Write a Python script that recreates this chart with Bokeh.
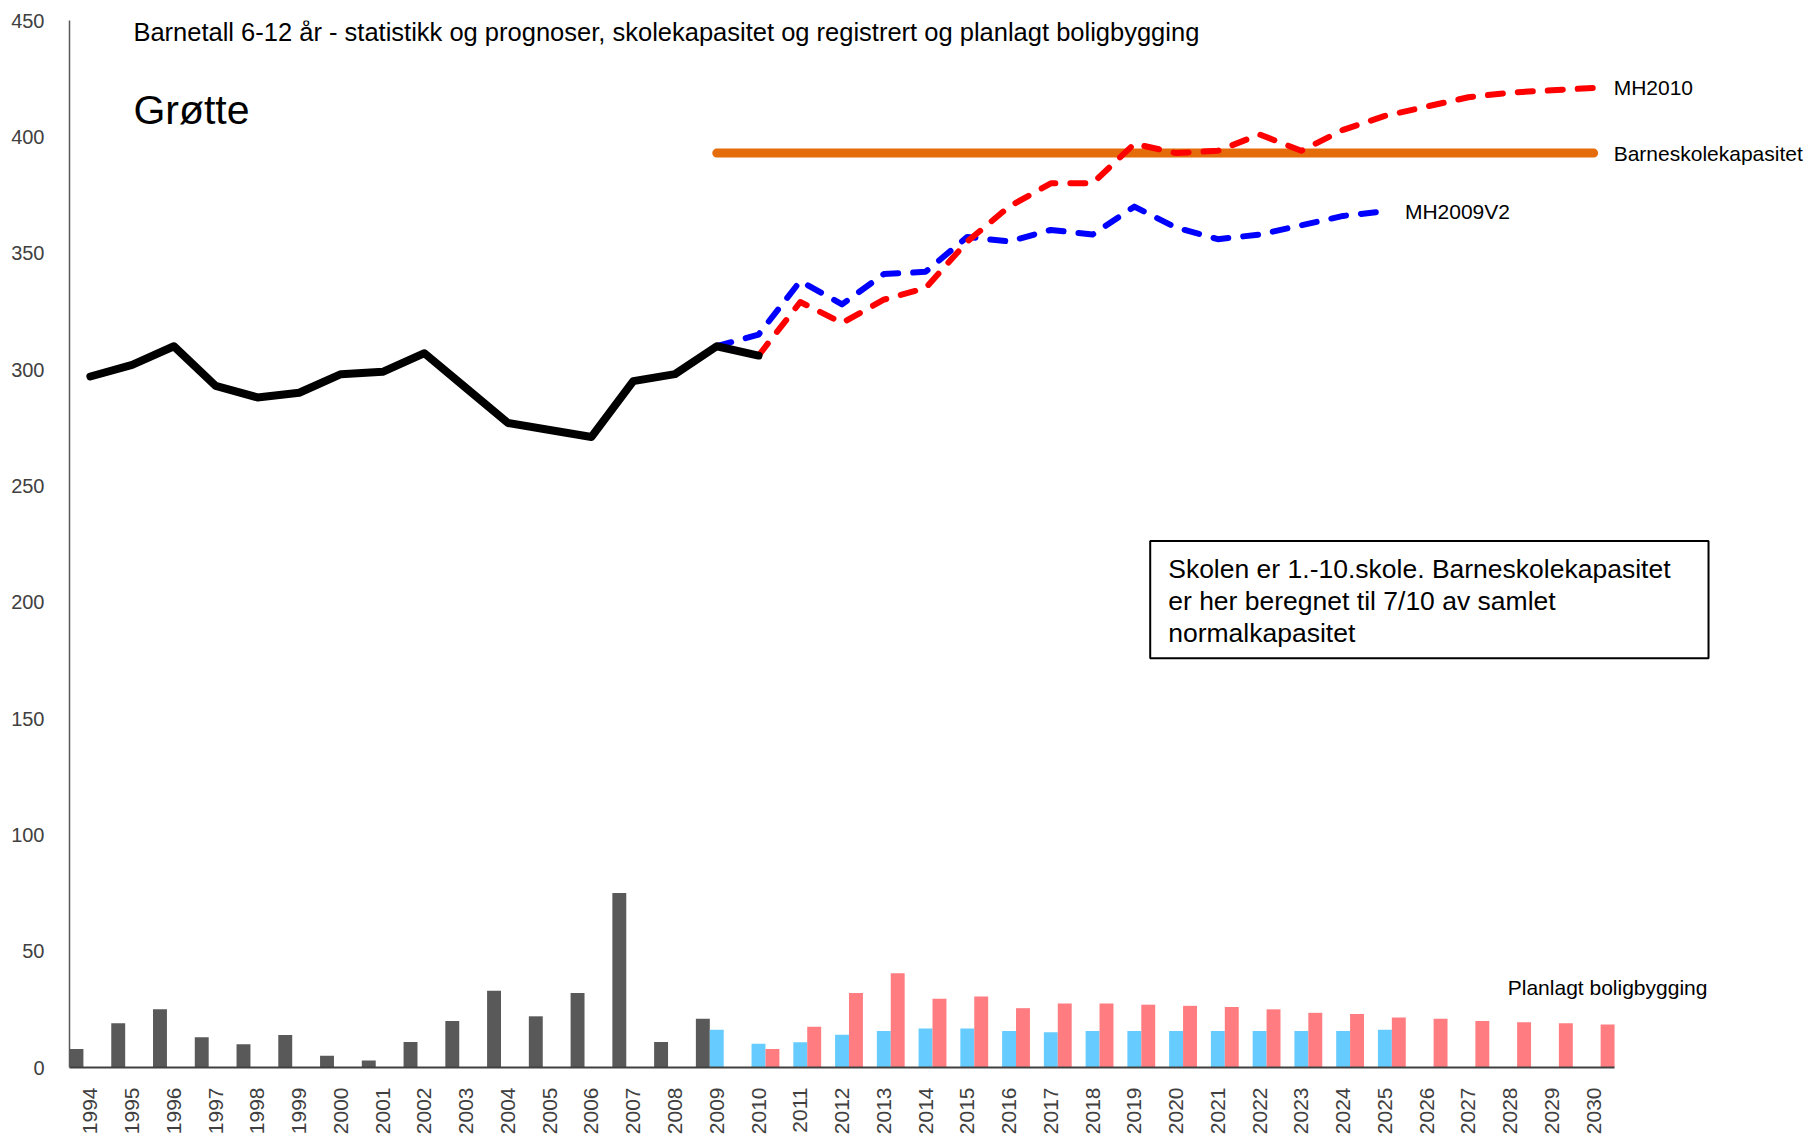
import math
from bokeh.plotting import figure
from bokeh.models import ColumnDataSource, Range1d, FixedTicker, Label, LabelSet
from bokeh.core.properties import value
from bokeh.transform import dodge
from bokeh.embed import file_html
from bokeh.resources import INLINE

# ---------------- data ----------------
years = list(range(1994, 2031))

hist_years = list(range(1994, 2011))
hist_children = [297, 302, 310, 293, 288, 290, 298, 299, 307, 292, 277, 274, 271, 295, 298, 310, 306]

mh2009_years = list(range(2009, 2026))
mh2009v2 = [310, 315, 338, 328, 341, 342, 357, 355, 360, 358, 370, 361, 356, 358, 362, 366, 368]

mh2010_years = list(range(2010, 2031))
mh2010 = [306, 329, 320, 330, 335, 355, 370, 380, 380, 397, 393, 394, 401, 394, 403, 409, 413, 417, 419, 420, 421]

cap_years = list(range(2009, 2031))
capacity = [393] * len(cap_years)

built_years = list(range(1994, 2010))
built = [8, 19, 25, 13, 10, 14, 5, 3, 11, 20, 33, 22, 32, 75, 11, 21]

reg_years = list(range(2009, 2026))
registered = [16.2, 10.2, 10.8, 14.1, 15.7, 16.8, 16.8, 15.7, 15.1, 15.7, 15.7, 15.7, 15.7, 15.7, 15.7, 15.7, 16.2]

plan_years = list(range(2010, 2031))
planned = [8, 17.5, 32, 40.5, 29.5, 30.5, 25.5, 27.5, 27.5, 27, 26.5, 26, 25, 23.5, 23, 21.5, 21, 20, 19.5, 19, 18.5]

y_ticks = [0, 50, 100, 150, 200, 250, 300, 350, 400, 450]

title_text = "Barnetall 6-12 år - statistikk og prognoser, skolekapasitet og registrert og planlagt boligbygging"
place_text = "Grøtte"
note_text = "Skolen er 1.-10.skole. Barneskolekapasitet\ner her beregnet til 7/10 av samlet\nnormalkapasitet"

FONT = "Liberation Sans"

# ---------------- figure ----------------
first, last = years[0] - 0.5, years[-1] + 0.5
p = figure(width=1812, height=1137, output_backend="svg", toolbar_location=None,
           x_range=Range1d(first, 2035.24), y_range=Range1d(0, 450),
           min_border_left=69, min_border_right=0, min_border_top=20, min_border_bottom=69)
p.outline_line_color = None
p.xgrid.grid_line_color = None
p.ygrid.grid_line_color = None
p.background_fill_color = "white"
p.border_fill_color = "white"

# bars
w = 1 / 3
p.vbar(x=dodge("x", -w), top="v", width=w,
       source=ColumnDataSource(dict(x=built_years, v=built)),
       fill_color="#595959", line_color=None)
p.vbar(x=dodge("x", 0), top="v", width=w,
       source=ColumnDataSource(dict(x=reg_years, v=registered)),
       fill_color="#66CCFF", line_color=None)
p.vbar(x=dodge("x", w), top="v", width=w,
       source=ColumnDataSource(dict(x=plan_years, v=planned)),
       fill_color="#FF7C80", line_color=None)

# lines
p.line(cap_years, capacity, line_color="#E46C0A", line_width=9, line_cap="round")
p.line(mh2009_years, mh2009v2, line_color="#0000FF", line_width=6,
       line_dash="15 15", line_cap="round", line_join="round")
p.line(mh2010_years, mh2010, line_color="#FF0000", line_width=6,
       line_dash="15 15", line_cap="round", line_join="round")
p.line(hist_years, hist_children, line_color="#000000", line_width=8,
       line_cap="round", line_join="round")

# end-of-series labels
end_src = ColumnDataSource(dict(
    x=[mh2010_years[-1], cap_years[-1], mh2009_years[-1]],
    y=[mh2010[-1], capacity[-1], mh2009v2[-1]],
    t=["MH2010", "Barneskolekapasitet", "MH2009V2"]))
p.add_layout(LabelSet(x="x", y="y", text="t", source=end_src, x_offset=20,
                      text_baseline="middle", text_font=value(FONT),
                      text_font_size="21px", text_color="#000000"))

bar_lab = ColumnDataSource(dict(x=[plan_years[-1]], y=[planned[-1]], t=["Planlagt boligbygging"]))
p.add_layout(LabelSet(x=dodge("x", w), y="y", text="t", source=bar_lab,
                      y_offset=37, text_align="center", text_baseline="middle",
                      text_font=value(FONT), text_font_size="21px", text_color="#000000"))

# title texts
p.add_layout(Label(x=1995.03, y=445.2, text=title_text, text_font=FONT, text_font_size="25.5px",
                   text_baseline="middle", text_color="#000000"))
p.add_layout(Label(x=1995.03, y=411.5, text=place_text, text_font=FONT, text_font_size="41px",
                   text_baseline="middle", text_color="#000000"))

# note box
p.add_layout(Label(x=2019.38, y=226.3, text=note_text, text_font=FONT, text_font_size="26.5px",
                   text_align="left", text_baseline="top", anchor="top_left",
                   text_line_height=1.07, padding=(18, 38, 13, 10),
                   border_line_color="#000000", border_line_width=2,
                   background_fill_color="white", text_color="#000000"))

# axes
p.yaxis.ticker = FixedTicker(ticks=y_ticks)
p.yaxis.major_tick_line_color = None
p.yaxis.minor_tick_line_color = None
p.yaxis.major_tick_out = 0
p.yaxis.major_tick_in = 0
p.yaxis.axis_line_color = "#595959"
p.yaxis.axis_line_width = 1.5
p.yaxis.major_label_standoff = 25
p.yaxis.major_label_text_font = FONT
p.yaxis.major_label_text_font_size = "20px"
p.yaxis.major_label_text_color = "#404040"

p.xaxis.ticker = FixedTicker(ticks=years)
p.xaxis.bounds = (first, last)
p.xaxis.major_tick_line_color = None
p.xaxis.minor_tick_line_color = None
p.xaxis.major_tick_out = 0
p.xaxis.major_tick_in = 0
p.xaxis.axis_line_color = "#404040"
p.xaxis.axis_line_width = 2
p.xaxis.major_label_orientation = math.pi / 2
p.xaxis.major_label_standoff = 20
p.xaxis.major_label_text_font = FONT
p.xaxis.major_label_text_font_size = "21px"
p.xaxis.major_label_text_color = "#404040"

open("out.html", "w").write(file_html(p, INLINE))
